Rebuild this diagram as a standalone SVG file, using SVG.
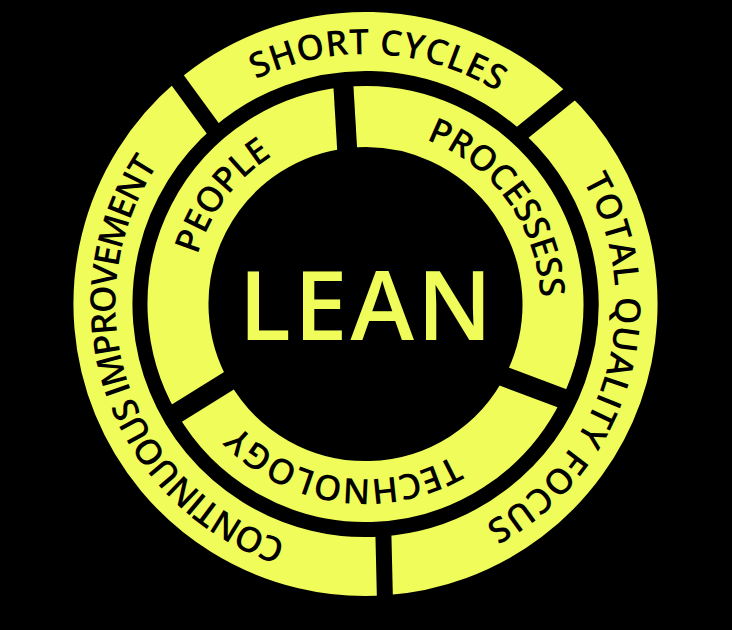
<svg xmlns="http://www.w3.org/2000/svg" width="732" height="630" viewBox="0 0 732 630">
<style>
.outer{fill:none;stroke:#F0FC5A;stroke-width:59}
.inner{fill:none;stroke:#F0FC5A;stroke-width:61}
.gap{stroke:#000;stroke-linecap:butt}
.og{stroke-width:16}
.ig{stroke-width:20}
.lbl{font-family:"Open Sans","Liberation Sans",sans-serif;font-size:35px;font-weight:600;fill:#000;letter-spacing:0.5px}
.in{letter-spacing:-0.3px}
.tight{letter-spacing:-1.8px}
.title{font-family:"Open Sans","Liberation Sans",sans-serif;font-size:96px;font-weight:600;fill:#F0FC5A;letter-spacing:3px}
</style>
<defs>
<path id="tp-short" d="M142.7,417.5 A250,250 0 1 1 575.2,440.2"/>
<path id="tp-tqf" d="M305.0,61.4 A250,250 0 1 1 185.7,477.7"/>
<path id="tp-ci" d="M554.2,468.0 A250,250 0 1 1 413.2,58.6"/>
<path id="tp-people" d="M344.2,477.7 A175,175 0 1 1 526.6,235.6"/>
<path id="tp-proc" d="M205.6,232.8 A175,175 0 1 1 383.8,478.0"/>
<path id="tp-tech" d="M527.8,238.4 A175,175 0 1 1 227.6,196.3"/>
</defs>
<rect x="0" y="0" width="732" height="630" fill="#000"/>
<g id="short-cycles">
<path class="outer" d="M195.0,104.4 A262.5,262.5 0 0 1 545.9,113.3"/>
<text class="lbl"><textPath href="#tp-short" startOffset="50%" text-anchor="middle">SHORT CYCLES</textPath></text>
</g>
<g id="total-quality-focus">
<path class="outer" d="M545.9,113.3 A262.5,262.5 0 0 1 383.8,565.9"/>
<text class="lbl"><textPath href="#tp-tqf" startOffset="50%" text-anchor="middle">TOTAL QUALITY FOCUS</textPath></text>
</g>
<g id="continuous-improvement">
<path class="outer" d="M383.8,565.9 A262.5,262.5 0 0 1 195.0,104.4"/>
<text class="lbl tight"><textPath href="#tp-ci" startOffset="50%" text-anchor="middle">CONTINUOUS IMPROVEMENT</textPath></text>
</g>
<g id="people">
<path class="inner" d="M202.6,396.9 A187.5,187.5 0 0 1 345.6,117.6"/>
<text class="lbl in"><textPath href="#tp-people" startOffset="50%" text-anchor="middle">PEOPLE</textPath></text>
</g>
<g id="processes">
<path class="inner" d="M345.6,117.6 A187.5,187.5 0 0 1 533.3,387.7"/>
<text class="lbl in"><textPath href="#tp-proc" startOffset="50%" text-anchor="middle">PROCESSESS</textPath></text>
</g>
<g id="technology">
<path class="inner" d="M533.3,387.7 A187.5,187.5 0 0 1 202.6,396.9"/>
<text class="lbl in"><textPath href="#tp-tech" startOffset="50%" text-anchor="middle">TECHNOLOGY</textPath></text>
</g>
<g id="connectors">
<line class="gap og" x1="216.6" y1="133.6" x2="172.6" y2="73.4"/>
<line class="gap og" x1="517.6" y1="136.4" x2="576.2" y2="89"/>
<line class="gap og" x1="383.3" y1="530" x2="385" y2="602"/>
<line class="gap ig" x1="343.0" y1="79" x2="347.5" y2="155"/>
<line class="gap ig" x1="500.5" y1="375.2" x2="569" y2="400.8"/>
<line class="gap ig" x1="235" y1="377" x2="169" y2="418"/>
</g>
<g id="lean">
<text class="title" x="367" y="340" text-anchor="middle">LEAN</text>
</g>
</svg>
